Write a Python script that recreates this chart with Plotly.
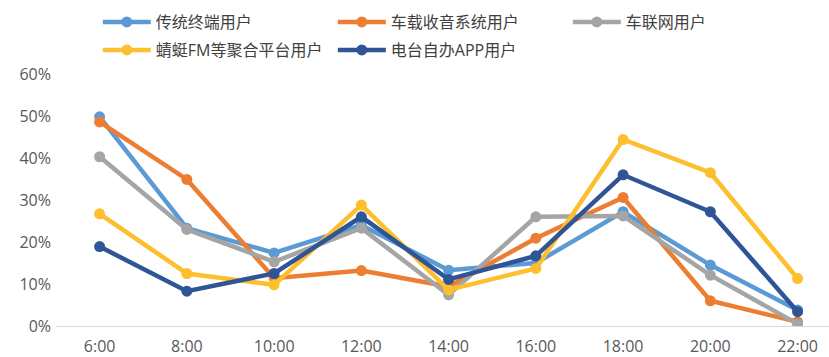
import plotly.graph_objects as go

categories = ["6:00", "8:00", "10:00", "12:00", "14:00", "16:00", "18:00", "20:00", "22:00"]
series_names = ["传统终端用户", "车载收音系统用户", "车联网用户", "蜻蜓FM等聚合平台用户", "电台自办APP用户"]
traditional = [0.498, 0.233, 0.174, 0.240, 0.133, 0.150, 0.272, 0.145, 0.038]
car_radio = [0.486, 0.349, 0.114, 0.132, 0.094, 0.209, 0.306, 0.060, 0.010]
connected_car = [0.403, 0.230, 0.153, 0.233, 0.074, 0.260, 0.262, 0.121, 0.005]
aggregator = [0.267, 0.125, 0.098, 0.288, 0.086, 0.137, 0.444, 0.365, 0.113]
station_app = [0.189, 0.083, 0.125, 0.260, 0.111, 0.167, 0.360, 0.272, 0.034]
colors = ["#5B9BD5", "#ED7D31", "#A5A5A5", "#FDBF2D", "#2F5597"]
legend_rows = ["legend", "legend", "legend", "legend2", "legend2"]
y_ticks = [0, 0.1, 0.2, 0.3, 0.4, 0.5, 0.6]
y_labels = ["0%", "10%", "20%", "30%", "40%", "50%", "60%"]

all_series = [traditional, car_radio, connected_car, aggregator, station_app]
xs = list(range(len(categories)))

fig = go.Figure()
for name, vals, col, lg in zip(series_names, all_series, colors, legend_rows):
    fig.add_trace(go.Scatter(
        x=xs, y=vals, name=name, mode="lines+markers",
        line=dict(color=col, width=4.5),
        marker=dict(color=col, size=11),
        legend=lg,
    ))

font_family = "Open Sans, Noto Sans CJK SC, sans-serif"
legend_common = dict(
    orientation="h", xref="container", yref="container",
    xanchor="left", yanchor="middle",
    entrywidth=172, entrywidthmode="pixels",
    font=dict(family=font_family, size=16, color="#404040"),
    itemwidth=48, tracegroupgap=0, bgcolor="rgba(0,0,0,0)",
)
fig.update_layout(
    width=829, height=357,
    margin=dict(l=56, r=0, t=74, b=31, autoexpand=False),
    paper_bgcolor="white", plot_bgcolor="white",
    font=dict(family=font_family, size=16, color="#595959"),
    showlegend=True,
    legend=dict(x=0.118, y=1 - 22 / 357, **legend_common),
    legend2=dict(x=0.118, y=1 - 50 / 357, **legend_common),
    xaxis=dict(
        range=[-0.5, 8.36], tickmode="array", tickvals=xs, ticktext=categories,
        showgrid=False, zeroline=False, showline=True, linecolor="#D9D9D9",
        linewidth=1, ticks="", tickfont=dict(size=16, color="#595959"),
        ticklabelstandoff=6,
    ),
    yaxis=dict(
        range=[0, 0.6], tickmode="array", tickvals=y_ticks, ticktext=y_labels,
        showgrid=False, zeroline=False, showline=False, ticks="",
        tickfont=dict(size=16, color="#595959"),
        ticklabelstandoff=4,
    ),
)

fig.write_html("out.html")
